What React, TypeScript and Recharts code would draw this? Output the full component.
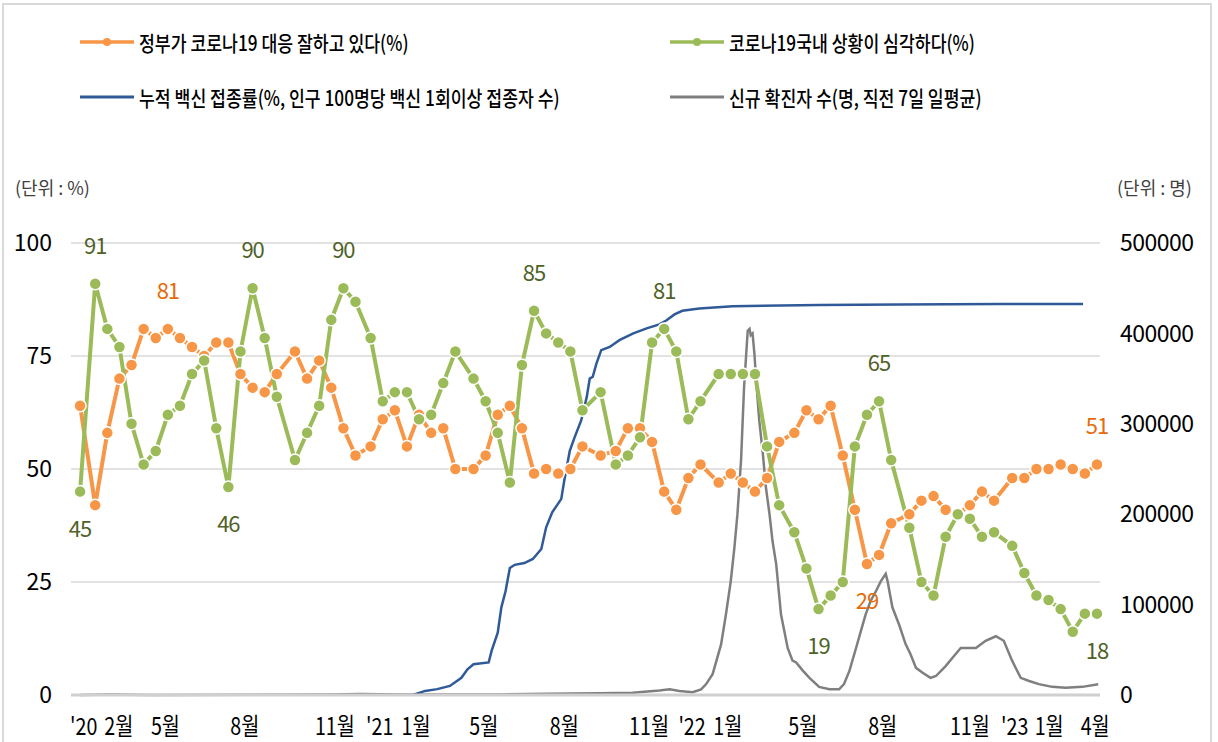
import React from 'react';
import { ComposedChart, Line, XAxis, YAxis, CartesianGrid } from 'recharts';

const FONT = "'Noto Sans CJK KR', 'Noto Sans', sans-serif";

// survey dates, in weeks after the first survey (Jan 2020)
const surveyWeeks = [
  0, 2.5, 4.5, 6.5, 8.5, 10.5, 12.5, 14.5, 16.5, 18.5,
  20.5, 22.5, 24.5, 26.5, 28.5, 30.5, 32.5, 35.5, 37.5, 39.5,
  41.5, 43.5, 45.5, 48, 50, 52, 54, 56, 58, 60,
  62, 65, 67, 69, 71, 73, 75, 77, 79, 81,
  83, 86, 88.5, 90.5, 92.5, 94.5, 96.5, 98.5, 100.5, 102.5,
  105.5, 107.5, 109.5, 111.5, 113.5, 115.5, 118, 120, 122, 124,
  126, 128, 130, 132, 134, 137, 139, 141, 143, 145,
  147, 149, 151, 154, 156, 158, 160, 162, 164, 166, 168,
];

// 정부가 코로나19 대응 잘하고 있다(%)
const approvalValues = [
  64, 42, 58, 70, 73, 81, 79, 81, 79, 77,
  75, 78, 78, 71, 68, 67, 71, 76, 70, 74,
  68, 59, 53, 55, 61, 63, 55, 62, 58, 59,
  50, 50, 53, 62, 64, 59, 49, 50, 49, 50,
  55, 53, 54, 59, 59, 56, 45, 41, 48, 51,
  47, 49, 47, 45, 48, 56, 58, 63, 61, 64,
  53, 41, 29, 31, 38, 40, 43, 44, 41, 40,
  42, 45, 43, 48, 48, 50, 50, 51, 50, 49, 51,
];

// 코로나19 국내 상황이 심각하다(%)
const seriousValues = [
  45, 91, 81, 77, 60, 51, 54, 62, 64, 71,
  74, 59, 46, 76, 90, 79, 66, 52, 58, 64,
  83, 90, 87, 79, 65, 67, 67, 61, 62, 69,
  76, 70, 65, 58, 47, 73, 85, 80, 78, 76,
  63, 67, 51, 53, 57, 78, 81, 76, 61, 65,
  71, 71, 71, 71, 55, 42, 36, 28, 19, 22,
  25, 55, 62, 65, 52, 37, 25, 22, 35, 40,
  39, 35, 36, 33, 27, 22, 21, 19, 14, 18, 18,
];

// 누적 백신 접종률(%)
const vaccineWeeks = [
  55, 57, 59, 61.1, 63, 64, 65, 67.5, 68, 69,
  69.6, 70.3, 71, 71.8, 73.4, 74.8, 76.2, 77, 78, 79.5,
  80, 80.9, 81.7, 82.8, 83.7, 84.2, 84.7, 85.3, 86.1, 87.5,
  89.1, 91.4, 93.6, 95.7, 96.9, 98.2, 99.5, 102.3, 107.8, 122.1,
  135.3, 151.8, 165.7,
];
const vaccineValues = [
  0, 0.9, 1.3, 2, 3.8, 5.7, 6.8, 7.2, 9.8, 13.8,
  19.4, 23, 28.1, 28.8, 29.2, 30.1, 32.3, 37.1, 40.4, 43.4,
  47.5, 54, 57, 60.8, 65.9, 70, 70.4, 73.3, 76.3, 77,
  78.5, 80, 81.1, 82, 82.9, 84.2, 85, 85.5, 86, 86.3,
  86.4, 86.5, 86.5,
];

// 신규 확진자 수(명, 직전 7일 일평균)
const caseWeeks = [
  0, 5, 11.6, 28.1, 41.3, 46.2, 52.8, 61.1, 69.3, 77.6,
  85.8, 91.3, 95.7, 97.4, 99, 101.2, 102.6, 103.4, 104.5, 105.9,
  106.7, 107.5, 108.1, 108.6, 109.2, 109.7, 110.3, 110.6, 110.8, 111.1,
  111.4, 111.7, 112.2, 112.8, 113.3, 113.9, 114.4, 115, 115.8, 116.9,
  117.7, 118.3, 119.4, 120.5, 122.1, 123.8, 125.4, 126.2, 127.1, 128.2,
  129, 129.8, 130.6, 131.5, 132.3, 133.1, 133.4, 134.2, 135.3, 136.4,
  137.2, 138.1, 139.2, 140.5, 141.4, 143, 144.1, 145.5, 146.9, 148,
  149.6, 151.3, 152.6, 154, 155.4, 156.8, 158.4, 160.6, 162.8, 165.6,
  168.2,
];
const caseValues = [
  0, 500, 100, 300, 500, 1000, 500, 500, 600, 1500,
  2000, 2500, 5000, 6300, 4500, 3000, 6300, 11800, 23000, 56000,
  89000, 126000, 163000, 200000, 260000, 341000, 403000, 405000, 398000, 400000,
  378000, 348000, 304000, 267000, 230000, 200000, 170000, 145000, 89000, 52000,
  38000, 36000, 27000, 19000, 9000, 6300, 6300, 12000, 26600, 52000,
  71000, 89500, 104000, 115000, 126000, 134000, 126000, 97000, 78000, 56000,
  45000, 30000, 24700, 19000, 21000, 32000, 41000, 52000, 52000, 52000,
  60000, 65000, 60000, 37700, 19000, 15500, 12000, 9000, 8100, 9000,
  12000,
];

const tickWeeks = [0.6, 6.4, 14.1, 27.2, 42.1, 49.5, 55.5, 66.7, 80, 94, 101.1, 107, 119.4, 132.6, 147, 154.4, 160.1, 167.7];
const tickLabels = ["'20", '2월', '5월', '8월', '11월', "'21", '1월', '5월', '8월', '11월', "'22", '1월', '5월', '8월', '11월', "'23", '1월', '4월'];
const leftTicks = [0, 25, 50, 75, 100];
const rightTicks = [0, 100000, 200000, 300000, 400000, 500000];

// points that carry a value label
const approvalLabels: Record<number, 'up' | 'down'> = { 7: 'up', 62: 'down', 80: 'up' };
const seriousLabels: Record<number, 'up' | 'down'> = {
  0: 'down', 1: 'up', 12: 'down', 14: 'up', 21: 'up', 36: 'up', 46: 'up', 58: 'down', 63: 'up', 80: 'down',
};

const approvalData = surveyWeeks.map((w, i) => ({ w, v: approvalValues[i] }));
const seriousData = surveyWeeks.map((w, i) => ({ w, v: seriousValues[i] }));
const vaccineData = vaccineWeeks.map((w, i) => ({ w, v: vaccineValues[i] }));
const caseData = caseWeeks.map((w, i) => ({ w, v: caseValues[i] }));

function makeDot(color: string, labels: Record<number, 'up' | 'down'>, labelColor: string) {
  return (props: any) => {
    const { cx, cy, index, value } = props;
    const pos = labels[index];
    return (
      <g key={`d-${index}`}>
        <circle cx={cx} cy={cy} r={6} fill={color} stroke="#fff" strokeWidth={1.5} />
        {pos && (
          <text
            x={cx}
            y={pos === 'up' ? cy - 30 : cy + 45}
            textAnchor="middle"
            fontSize={22}
            fontFamily={FONT}
            fill={labelColor}
            letterSpacing={-1}
          >
            {value}
          </text>
        )}
      </g>
    );
  };
}

const XTick = (props: any) => {
  const { x, y, payload } = props;
  const label = tickLabels[tickWeeks.indexOf(payload.value)];
  return (
    <text
      transform={`translate(${x},${y + 40}) scale(0.82,1)`}
      textAnchor="middle"
      fontSize={24}
      fontFamily={FONT}
      fill="#000"
    >
      {label}
    </text>
  );
};

function LegendItem({ left, top, color, dot, text }: { left: number; top: number; color: string; dot: boolean; text: string }) {
  return (
    <div style={{ position: 'absolute', left, top, height: 20, display: 'flex', alignItems: 'center' }}>
      <svg width={54} height={12} style={{ display: 'block' }}>
        <line x1={0} y1={6} x2={54} y2={6} stroke={color} strokeWidth={dot ? 3.5 : 2.8} />
        {dot && <circle cx={27} cy={6} r={4} fill={color} />}
      </svg>
      <span
        style={{
          marginLeft: 5,
          fontSize: 21,
          fontWeight: 500,
          whiteSpace: 'nowrap',
          transform: 'scaleX(0.82)',
          transformOrigin: 'left center',
          color: '#000',
          lineHeight: '20px',
        }}
      >
        {text}
      </span>
    </div>
  );
}

export default function App() {
  return (
    <div style={{ position: 'absolute', left: 0, top: 0, width: 1218, height: 742, overflow: 'hidden', background: '#fff', fontFamily: FONT }}>
      <div style={{ position: 'absolute', left: 2, top: 3, width: 1210, height: 800, border: '2px solid #d9d9d9', boxSizing: 'border-box' }} />

      <LegendItem left={80} top={32} color="#f79646" dot text="정부가 코로나19 대응 잘하고 있다(%)" />
      <LegendItem left={670} top={32} color="#9bbb59" dot text="코로나19국내 상황이 심각하다(%)" />
      <LegendItem left={80} top={87} color="#2f5a97" dot={false} text="누적 백신 접종률(%, 인구 100명당 백신 1회이상 접종자 수)" />
      <LegendItem left={670} top={87} color="#7f7f7f" dot={false} text="신규 확진자 수(명, 직전 7일 일평균)" />

      <div style={{ position: 'absolute', left: 15, top: 174, fontSize: 18, color: '#404040', whiteSpace: 'nowrap' }}>(단위 : %)</div>
      <div style={{ position: 'absolute', left: 1117, top: 174, fontSize: 18, color: '#404040', whiteSpace: 'nowrap' }}>(단위 : 명)</div>

      <div style={{ position: 'absolute', left: 0, top: 0 }}>
        <ComposedChart width={1218} height={742} margin={{ top: 243, right: 0, bottom: 9, left: 0 }}>
          <CartesianGrid yAxisId="left" vertical={false} stroke="#d9d9d9" strokeWidth={1.5} />
          <XAxis
            dataKey="w"
            type="number"
            domain={[-1.5, 168.5]}
            ticks={tickWeeks}
            interval={0}
            height={38}
            tickSize={0}
            tickMargin={0}
            tickLine={false}
            axisLine={{ stroke: '#d0d0d0', strokeWidth: 3 }}
            tick={<XTick />}
          />
          <YAxis
            yAxisId="left"
            orientation="left"
            width={71}
            domain={[0, 100]}
            ticks={leftTicks}
            interval={0}
            axisLine={false}
            tickLine={false}
            tickSize={0}
            tickMargin={19}
            tick={{ fontSize: 23, fill: '#000', fontFamily: FONT }}
          />
          <YAxis
            yAxisId="right"
            orientation="right"
            width={118}
            domain={[0, 500000]}
            ticks={rightTicks}
            interval={0}
            axisLine={false}
            tickLine={false}
            tickSize={0}
            tickMargin={20}
            tick={{ fontSize: 23, fill: '#000', fontFamily: FONT, letterSpacing: -0.5 }}
          />
          <Line yAxisId="right" data={caseData} dataKey="v" type="linear" stroke="#7f7f7f" strokeWidth={2.5} dot={false} isAnimationActive={false} />
          <Line yAxisId="left" data={vaccineData} dataKey="v" type="linear" stroke="#2f5a97" strokeWidth={2.5} dot={false} isAnimationActive={false} />
          <Line
            yAxisId="left"
            data={approvalData}
            dataKey="v"
            type="linear"
            stroke="#f79646"
            strokeWidth={4}
            dot={makeDot('#f79646', approvalLabels, '#e46c0a')}
            isAnimationActive={false}
          />
          <Line
            yAxisId="left"
            data={seriousData}
            dataKey="v"
            type="linear"
            stroke="#9bbb59"
            strokeWidth={4}
            dot={makeDot('#9bbb59', seriousLabels, '#4f6228')}
            isAnimationActive={false}
          />
        </ComposedChart>
      </div>
    </div>
  );
}
